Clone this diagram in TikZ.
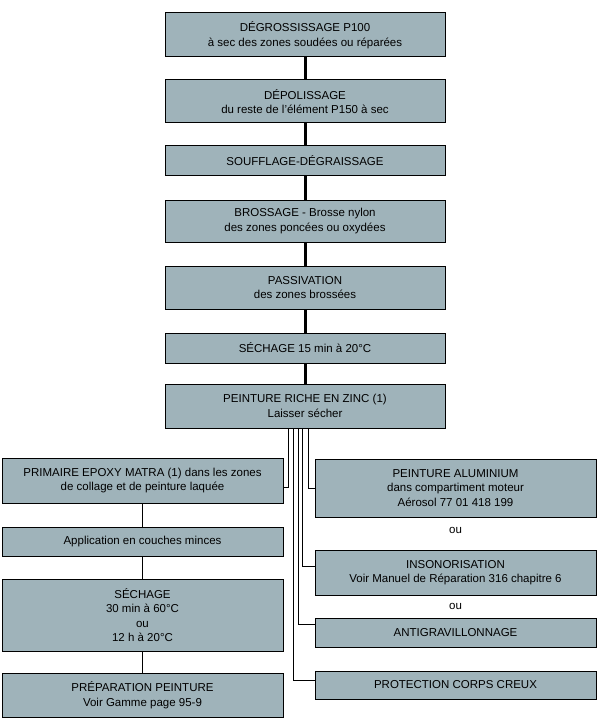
\documentclass[tikz,border=0pt]{standalone}
\usepackage{fontspec}
\setmainfont{Liberation Sans}
\usetikzlibrary{calc}
\definecolor{boxgrey}{HTML}{9FB3BA}

\begin{document}
\begin{tikzpicture}[x=1pt,y=-1pt,
  etape/.style={draw=black,fill=boxgrey,line width=1pt,align=center,inner sep=0pt,font=\fontsize{11.5}{14.5}\selectfont},
  haut/.style={etape,minimum width=280pt},
  cote/.style={etape,minimum width=281pt},
  lien/.style={line width=0.9pt},
  gros/.style={line width=3pt},
  ou/.style={font=\fontsize{11.5}{14.5}\selectfont}]
  \useasboundingbox (0,0) rectangle (604,722);

  % colonne centrale
  \node[haut,minimum height=44pt] (degr) at (305,35) {DÉGROSSISSAGE P100\\à sec des zones soudées ou réparées};
  \node[haut,minimum height=43pt] (depo) at (305,101.5) {DÉPOLISSAGE\\du reste de l'élément P150 à sec};
  \node[haut,minimum height=30pt] (souf) at (305,161) {SOUFFLAGE-DÉGRAISSAGE};
  \node[haut,minimum height=42pt] (bros) at (305,221) {BROSSAGE - Brosse nylon\\des zones poncées ou oxydées};
  \node[haut,minimum height=43pt] (pass) at (305,287.5) {PASSIVATION\\des zones brossées};
  \node[haut,minimum height=30pt] (sech) at (305,348) {SÉCHAGE 15 min à 20°C};
  \node[haut,minimum height=44pt] (zinc) at (305,406) {PEINTURE RICHE EN ZINC (1)\\Laisser sécher};

  % colonne gauche
  \node[cote,minimum height=45pt] (prim) at (142.5,480.5) {PRIMAIRE EPOXY MATRA (1) dans les zones\\de collage et de peinture laquée};
  \node[cote,minimum height=29pt] (appl) at (142.5,541.5) {Application en couches minces};
  \node[cote,minimum height=72pt] (sechb) at (142.5,615) {SÉCHAGE\\30 min à 60°C\\ou\\12 h à 20°C};
  \node[cote,minimum height=44pt] (prep) at (142.5,695) {PRÉPARATION PEINTURE\\Voir Gamme page 95-9};

  % colonne droite
  \node[cote,minimum height=58pt] (alu) at (455.5,488) {PEINTURE ALUMINIUM\\dans compartiment moteur\\Aérosol 77 01 418 199};
  \node[ou] (ou1) at (455.5,530) {ou};
  \node[cote,minimum height=45pt] (inso) at (455.5,572.5) {INSONORISATION\\Voir Manuel de Réparation 316 chapitre 6};
  \node[ou] (ou2) at (455.5,606) {ou};
  \node[cote,minimum height=29pt] (antg) at (455.5,632.5) {ANTIGRAVILLONNAGE};
  \node[cote,minimum height=28pt] (prot) at (455.5,685) {PROTECTION CORPS CREUX};

  \foreach \a/\b in {degr/depo,depo/souf,souf/bros,bros/pass,pass/sech,sech/zinc}
    \draw[gros] (\a) -- (\b);

  \foreach \a/\b in {prim/appl,appl/sechb,sechb/prep}
    \draw[lien] (\a) -- (\b);

  % branches
  \draw[lien] ($(zinc.south)+(-17,0)$) |- ($(prim.east)+(0,7)$);
  \draw[lien] ($(zinc.south)+(3,0)$) |- (alu.west);
  \draw[lien] ($(zinc.south)+(-3,0)$) |- ($(inso.west)+(0,-6.5)$);
  \draw[lien] ($(zinc.south)+(-7,0)$) |- ($(antg.west)+(0,-8.5)$);
  \draw[lien] ($(zinc.south)+(-12,0)$) |- ($(prot.west)+(0,-5)$);
\end{tikzpicture}
\end{document}
